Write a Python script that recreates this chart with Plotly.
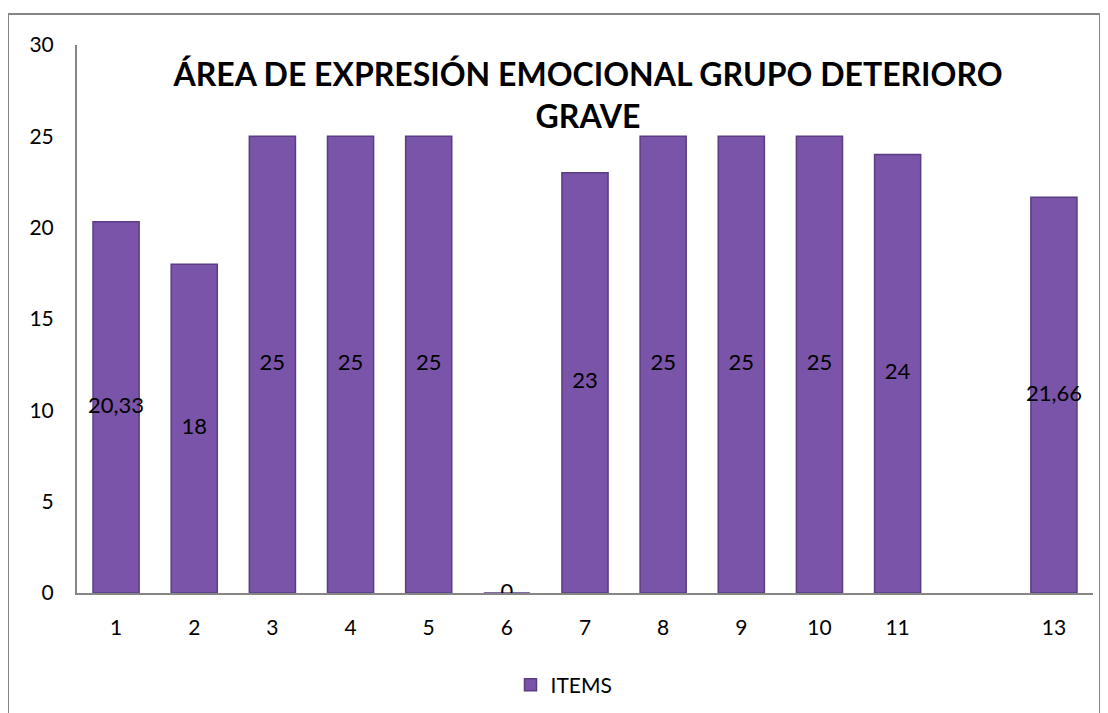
import plotly.graph_objects as go

categories = [1, 2, 3, 4, 5, 6, 7, 8, 9, 10, 11, 12, 13]
tick_labels = ["1", "2", "3", "4", "5", "6", "7", "8", "9", "10", "11", "", "13"]
values = [20.33, 18, 25, 25, 25, 0, 23, 25, 25, 25, 24, None, 21.66]
value_labels = ["20,33", "18", "25", "25", "25", "0", "23", "25", "25", "25", "24", "", "21,66"]
series_name = "ITEMS"
title_lines = ["ÁREA DE EXPRESIÓN EMOCIONAL GRUPO DETERIORO", "GRAVE"]

FONT = "Lato"
BAR_COLOR = "#7954a8"

fig = go.Figure()
fig.add_trace(go.Bar(
    x=categories, y=values, name=series_name,
    marker=dict(color=BAR_COLOR, line=dict(color="#5a3d85", width=1.5)),
    width=0.59, showlegend=True,
))
lab_x = [c for c, v in zip(categories, values) if v is not None]
lab_y = [v / 2 for v in values if v is not None]
lab_t = [t for t, v in zip(value_labels, values) if v is not None]
fig.add_trace(go.Scatter(
    x=lab_x, y=lab_y, text=lab_t, mode="text",
    textfont=dict(family=FONT, size=22, color="#000000"),
    showlegend=False, hoverinfo="skip",
))

# page has an 8px body margin; compensate so the plot lands where the reference has it
OFF = 8
W, H = 1108, 713
L, R, T, B = 77 - OFF, 23, 45 - OFF, 128
pw, ph = W - L - R, H - T - B

fig.update_layout(
    width=W, height=H,
    margin=dict(l=L, r=R, t=T, b=B),
    paper_bgcolor="white", plot_bgcolor="white",
    font=dict(family=FONT, size=21, color="#000000"),
    title=dict(text="<br>".join("<b>" + s + "</b>" for s in title_lines),
               font=dict(family=FONT, size=32, color="#000000"),
               x=(588 - OFF) / W, xanchor="center", y=1 - (86 - OFF) / H, yanchor="top",
               xref="container", yref="container"),
    xaxis=dict(range=[0.5, 13.5], tickmode="array", tickvals=categories, ticktext=tick_labels,
               showline=True, linecolor="#868686", linewidth=2, showgrid=False, zeroline=False,
               ticks="", ticklabelstandoff=15),
    yaxis=dict(range=[0, 30], dtick=5, showline=True, linecolor="#868686", linewidth=2,
               showgrid=False, zeroline=False, ticks="", ticklabelstandoff=17),
    legend=dict(orientation="h", x=(564 - 77) / pw, xanchor="center", y=(593 - 685) / ph,
                yanchor="middle", font=dict(family=FONT, size=21)),
    bargap=0.41,
)
fig.add_shape(type="rect", xref="paper", yref="paper",
              x0=(8 - 77) / pw, x1=(1100 - 77) / pw, y0=-0.5, y1=(593 - 14) / ph,
              line=dict(color="#868686", width=2), fillcolor="rgba(0,0,0,0)", layer="below")

fig.write_html("out.html")
